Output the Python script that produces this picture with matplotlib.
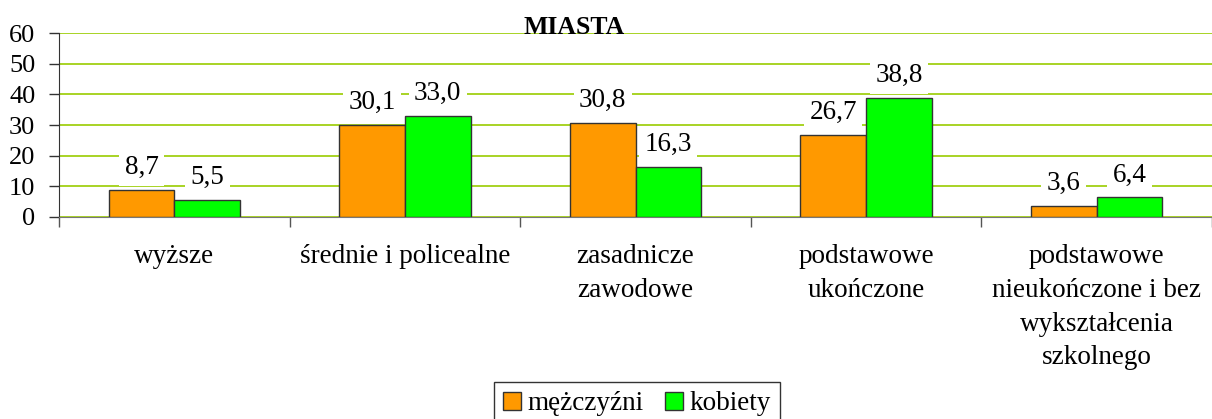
import numpy as np
import matplotlib.pyplot as plt
from matplotlib.patches import Patch

categories = ["wyższe", "średnie i policealne", "zasadnicze\nzawodowe",
              "podstawowe\nukończone",
              "podstawowe\nnieukończone i bez\nwykształcenia\nszkolnego"]
men = [8.7, 30.1, 30.8, 26.7, 3.6]
women = [5.5, 33.0, 16.3, 38.8, 6.4]
series_names = ["mężczyźni", "kobiety"]
yticks = [0, 10, 20, 30, 40, 50, 60]

orange = "#FF9900"
green = "#00FF00"
grid_col = "#99CC00"

plt.rcParams['font.family'] = 'serif'
plt.rcParams['font.serif'] = ['Liberation Serif', 'DejaVu Serif']
fs = 19.5

W, H = 1212, 419
fig = plt.figure(figsize=(W / 100, H / 100), dpi=100)
ax = fig.add_axes([59 / W, (H - 216.7) / H, (W - 59) / W, 183.4 / H])

x = np.arange(len(categories))
w = 0.285
b1 = ax.bar(x - w / 2, men, w, color=orange, edgecolor="#333333", linewidth=1, zorder=3)
b2 = ax.bar(x + w / 2, women, w, color=green, edgecolor="#333333", linewidth=1, zorder=3)

for bars, vals in ((b1, men), (b2, women)):
    for r, v in zip(bars, vals):
        ax.annotate(f"{v:.1f}".replace(".", ","),
                    (r.get_x() + r.get_width() / 2, r.get_height()),
                    xytext=(0, 7), textcoords="offset points",
                    ha="center", va="bottom", fontsize=fs, zorder=4,
                    bbox=dict(boxstyle="square,pad=0.2", fc="white", ec="none"))

ax.set_ylim(0, 60)
ax.set_xlim(-0.5, 4.5 - 3 / 231.25)
ax.set_yticks(yticks)
ax.tick_params(axis="y", labelsize=19, length=7, width=1, color="#333333", pad=10)
ax.yaxis.grid(True, color=grid_col, linewidth=1.2, zorder=0)
ax.set_axisbelow(True)

ax.set_xticks(x)
ax.set_xticklabels(categories, fontsize=fs, linespacing=1.45)
ax.tick_params(axis="x", length=0, pad=20)
ax.set_xticks(np.arange(len(categories) + 1) - 0.5, minor=True)
ax.tick_params(axis="x", which="minor", length=7, width=1, color="#555555")

for s in ("top", "right"):
    ax.spines[s].set_visible(False)
ax.spines["left"].set_color("#333333")
ax.spines["bottom"].set_color("#777777")

fig.text(574 / W, 1 - 28 / H, "MIASTA", ha="center", va="center",
         fontsize=18.5, fontweight="bold")

handles = [Patch(facecolor=orange, edgecolor="#333333"),
           Patch(facecolor=green, edgecolor="#333333")]
leg = fig.legend(handles, series_names, loc="upper center",
                 bbox_to_anchor=(637 / W, 1 - 382 / H), ncol=2, fontsize=fs,
                 frameon=True, fancybox=False, edgecolor="black",
                 handlelength=0.65, handleheight=0.65, handletextpad=0.25,
                 columnspacing=0.8, borderpad=0.35, borderaxespad=0)
leg.get_frame().set_linewidth(1)

fig.savefig("out.png", dpi=100)
